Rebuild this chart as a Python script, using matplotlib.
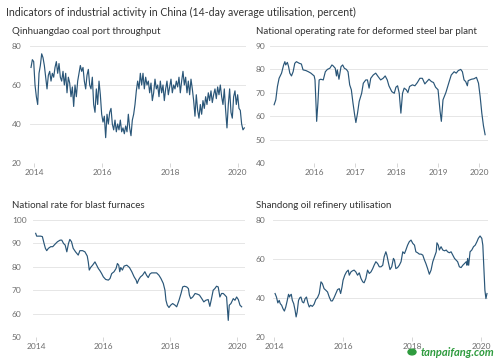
import matplotlib

matplotlib.use("Agg")
import matplotlib.pyplot as plt
from matplotlib.patches import Circle
import numpy as np

plt.rcParams["font.family"] = ["Lato", "DejaVu Sans"]

TITLE = "Indicators of industrial activity in China (14-day average utilisation, percent)"

# ---- Qinhuangdao coal port throughput (roughly fortnightly, late 2013 -> early 2020)
coal_start, coal_end = 2013.91, 2020.19
coal_vals = [
    69, 73, 72, 60, 54, 50, 66, 70, 76, 74, 70, 64, 58, 65, 67, 62, 66, 64, 69, 72,
    66, 71, 64, 62, 67, 60, 66, 56, 64, 61, 54, 59, 49, 60, 54, 62, 66, 70, 67, 69,
    62, 58, 65, 68, 60, 58, 64, 50, 46, 58, 50, 62, 55, 45, 41, 44, 33, 45, 40, 46,
    48, 40, 37, 42, 36, 40, 37, 42, 36, 38, 35, 39, 36, 45, 38, 34, 42, 45, 50, 57,
    62, 58, 66, 60, 66, 58, 64, 60, 62, 56, 61, 52, 56, 63, 58, 60, 54, 62, 56, 60,
    52, 58, 62, 55, 59, 63, 56, 60, 58, 62, 59, 64, 56, 62, 67, 60, 64, 56, 62, 55,
    63, 58, 52, 44, 55, 47, 43, 50, 45, 52, 48, 54, 50, 56, 52, 57, 51, 55, 58, 53,
    59, 55, 60, 54, 50, 58, 47, 38, 50, 58, 46, 43, 54, 57, 50, 55, 48, 47, 40, 37, 38,
]

# ---- National operating rate for deformed steel bar plant
steel_years = [
    2015.03, 2015.07, 2015.11, 2015.15, 2015.21, 2015.26, 2015.29, 2015.31, 2015.35, 2015.38,
    2015.41, 2015.45, 2015.49, 2015.53, 2015.57, 2015.64, 2015.69, 2015.73, 2015.80, 2015.86,
    2015.92, 2015.96, 2016.00, 2016.02, 2016.05, 2016.06, 2016.09, 2016.12, 2016.16, 2016.22,
    2016.27, 2016.32, 2016.38, 2016.43, 2016.46, 2016.51, 2016.54, 2016.56, 2016.60, 2016.65,
    2016.69, 2016.73, 2016.78, 2016.82, 2016.86, 2016.90, 2016.94, 2016.98, 2017.01, 2017.05,
    2017.09, 2017.15, 2017.19, 2017.25, 2017.29, 2017.33, 2017.37, 2017.43, 2017.49, 2017.55,
    2017.61, 2017.67, 2017.72, 2017.77, 2017.81, 2017.88, 2017.94, 2017.98, 2018.02, 2018.06,
    2018.10, 2018.14, 2018.18, 2018.23, 2018.27, 2018.31, 2018.38, 2018.44, 2018.50, 2018.56,
    2018.62, 2018.68, 2018.73, 2018.78, 2018.84, 2018.89, 2018.94, 2019.00, 2019.05, 2019.08,
    2019.12, 2019.19, 2019.27, 2019.32, 2019.39, 2019.44, 2019.49, 2019.55, 2019.59, 2019.63,
    2019.67, 2019.71, 2019.73, 2019.77, 2019.81, 2019.87, 2019.93, 2019.98, 2020.02, 2020.06,
    2020.10, 2020.14,
]
steel_vals = [
    64.9, 67.0, 72.7, 76.2, 78.4, 81.9, 83.3, 81.9, 83.0, 81.2,
    78.4, 77.2, 79.0, 82.6, 83.3, 82.6, 82.3, 79.8, 79.5, 79.0,
    78.4, 77.8, 77.2, 75.5, 62.7, 57.8, 65.6, 75.5, 75.8, 75.5,
    79.0, 80.0, 80.5, 81.9, 81.5, 80.5, 77.2, 79.8, 75.8, 81.2,
    81.9, 80.5, 80.0, 79.0, 73.4, 71.3, 65.6, 60.6, 57.3, 61.3,
    66.3, 69.8, 74.1, 75.5, 75.5, 72.0, 76.2, 77.6, 78.4, 76.9,
    75.5, 76.2, 77.2, 75.5, 73.0, 70.5, 69.8, 72.4, 73.0, 69.8,
    61.3, 69.8, 72.0, 71.3, 70.1, 72.7, 73.4, 73.0, 74.4, 76.2,
    76.2, 73.8, 74.8, 75.8, 74.8, 74.4, 72.4, 71.3, 62.0, 57.8,
    67.0, 70.1, 74.8, 77.6, 79.0, 78.4, 79.5, 80.0, 79.0, 75.5,
    74.8, 73.0, 75.2, 75.5, 75.8, 76.0, 76.6, 74.1, 68.4, 61.3,
    55.9, 52.1,
]

# ---- National rate for blast furnaces
blast_years = [
    2013.99, 2014.02, 2014.07, 2014.14, 2014.19, 2014.24, 2014.28, 2014.32, 2014.37, 2014.44,
    2014.50, 2014.57, 2014.64, 2014.72, 2014.77, 2014.82, 2014.87, 2014.92, 2014.97, 2015.01,
    2015.06, 2015.11, 2015.18, 2015.26, 2015.31, 2015.39, 2015.46, 2015.53, 2015.56, 2015.59,
    2015.63, 2015.69, 2015.76, 2015.81, 2015.86, 2015.91, 2015.96, 2016.01, 2016.08, 2016.16,
    2016.21, 2016.26, 2016.33, 2016.39, 2016.43, 2016.47, 2016.50, 2016.53, 2016.58, 2016.63,
    2016.71, 2016.79, 2016.86, 2016.93, 2016.99, 2017.02, 2017.07, 2017.12, 2017.18, 2017.25,
    2017.30, 2017.35, 2017.40, 2017.45, 2017.52, 2017.60, 2017.67, 2017.73, 2017.80, 2017.85,
    2017.88, 2017.92, 2017.97, 2018.02, 2018.08, 2018.15, 2018.20, 2018.27, 2018.33, 2018.38,
    2018.43, 2018.50, 2018.55, 2018.58, 2018.62, 2018.68, 2018.75, 2018.82, 2018.88, 2018.95,
    2019.01, 2019.07, 2019.14, 2019.19, 2019.24, 2019.29, 2019.34, 2019.39, 2019.44, 2019.49,
    2019.54, 2019.59, 2019.64, 2019.69, 2019.74, 2019.77, 2019.82, 2019.89, 2019.94, 2019.99,
    2020.04, 2020.09, 2020.14,
]
blast_vals = [
    94.3, 93.1, 93.1, 93.1, 92.9, 90.0, 87.9, 86.9, 87.9, 88.6,
    88.6, 89.7, 90.7, 91.4, 91.4, 90.0, 89.3, 86.4, 90.0, 91.7,
    90.7, 87.9, 86.4, 85.0, 86.9, 86.9, 86.4, 84.6, 82.1, 78.6,
    79.7, 80.7, 82.1, 80.7, 79.3, 78.3, 77.1, 75.7, 74.6, 74.3,
    75.0, 77.1, 77.9, 79.3, 81.4, 80.7, 77.9, 79.7, 78.6, 80.3,
    80.7, 79.7, 77.9, 75.7, 74.3, 72.9, 74.6, 75.7, 76.4, 77.9,
    76.4, 75.4, 76.9, 77.4, 77.4, 77.4, 76.4, 75.0, 72.9, 70.0,
    65.7, 63.6, 62.6, 63.6, 64.3, 63.6, 62.9, 65.7, 68.6, 71.4,
    71.7, 71.4, 70.7, 67.9, 66.4, 67.1, 68.6, 68.3, 67.9, 66.4,
    65.0, 65.7, 66.0, 63.1, 66.4, 70.0, 70.7, 71.7, 71.4, 67.1,
    68.6, 68.6, 67.9, 67.1, 57.1, 63.6, 64.3, 66.4, 65.7, 67.1,
    66.0, 63.6, 62.9,
]

# ---- Shandong oil refinery utilisation
oil_years = [
    2014.03, 2014.07, 2014.11, 2014.15, 2014.18, 2014.22, 2014.26, 2014.30, 2014.34, 2014.38,
    2014.42, 2014.45, 2014.47, 2014.50, 2014.53, 2014.57, 2014.61, 2014.64, 2014.67, 2014.71,
    2014.75, 2014.78, 2014.82, 2014.86, 2014.90, 2014.94, 2014.98, 2015.02, 2015.06, 2015.11,
    2015.16, 2015.21, 2015.26, 2015.31, 2015.34, 2015.36, 2015.40, 2015.45, 2015.50, 2015.55,
    2015.60, 2015.65, 2015.69, 2015.74, 2015.79, 2015.84, 2015.89, 2015.93, 2015.97, 2016.00,
    2016.05, 2016.10, 2016.15, 2016.18, 2016.23, 2016.27, 2016.32, 2016.37, 2016.42, 2016.47,
    2016.52, 2016.57, 2016.61, 2016.66, 2016.71, 2016.76, 2016.81, 2016.86, 2016.90, 2016.95,
    2017.00, 2017.05, 2017.10, 2017.15, 2017.19, 2017.24, 2017.27, 2017.32, 2017.36, 2017.41,
    2017.46, 2017.49, 2017.53, 2017.58, 2017.63, 2017.68, 2017.73, 2017.78, 2017.82, 2017.87,
    2017.92, 2017.97, 2018.02, 2018.07, 2018.11, 2018.16, 2018.21, 2018.26, 2018.31, 2018.36,
    2018.40, 2018.45, 2018.50, 2018.55, 2018.60, 2018.65, 2018.70, 2018.72, 2018.76, 2018.79,
    2018.84, 2018.89, 2018.94, 2018.99, 2019.03, 2019.08, 2019.13, 2019.18, 2019.23, 2019.28,
    2019.32, 2019.37, 2019.42, 2019.47, 2019.52, 2019.57, 2019.59, 2019.61, 2019.64, 2019.68,
    2019.73, 2019.78, 2019.83, 2019.88, 2019.92, 2019.97, 2020.02, 2020.05, 2020.08, 2020.11,
    2020.14, 2020.17,
]
oil_vals = [
    42.3, 40.5, 37.5, 38.8, 37.1, 36.3, 34.5, 33.3, 35.4, 38.5,
    41.9, 40.5, 41.4, 41.9, 38.8, 37.1, 33.7, 30.3, 32.8, 38.8,
    40.2, 40.5, 38.0, 37.5, 39.7, 40.5, 37.5, 35.4, 36.3, 35.7,
    36.8, 39.2, 40.2, 42.3, 45.7, 48.3, 47.4, 44.8, 44.0, 43.1,
    40.5, 38.5, 38.5, 40.2, 42.3, 44.3, 44.8, 42.3, 45.7, 49.1,
    51.7, 53.4, 54.3, 51.7, 53.4, 53.9, 54.3, 53.4, 51.7, 52.9,
    50.0, 48.3, 47.8, 50.0, 54.3, 52.6, 53.4, 55.1, 56.8, 58.6,
    57.7, 56.0, 56.0, 56.8, 61.1, 63.7, 62.0, 57.7, 54.6, 56.0,
    60.3, 59.4, 55.1, 55.6, 56.8, 58.6, 63.7, 62.8, 64.6, 67.1,
    68.9, 69.7, 68.0, 67.1, 63.7, 63.2, 62.5, 62.5, 62.0, 59.4,
    57.7, 55.1, 52.2, 54.3, 58.6, 61.1, 63.7, 68.3, 67.1, 64.6,
    66.3, 64.6, 64.2, 64.6, 63.7, 63.2, 63.7, 62.0, 60.3, 59.4,
    58.6, 56.0, 55.6, 56.8, 57.7, 58.6, 56.8, 60.3, 56.8, 63.7,
    64.6, 66.3, 67.1, 68.9, 70.6, 71.8, 70.6, 67.1, 56.0, 44.0,
    39.7, 42.3,
]

LINE = "#2a5678"
GRID = "#e6e6e6"
TXT = "#333333"
TICK = "#6e6e6e"
W, H = 499, 360

fig = plt.figure(figsize=(W / 100, H / 100), dpi=100)


def add_panel(left, top, right, bottom, label_x, subtitle, years, vals,
              ylim, yticks, xlim, xticks):
    ax = fig.add_axes([left / W, 1 - bottom / H, (right - left) / W, (bottom - top) / H])
    ax.plot(years, vals, color=LINE, lw=0.85, solid_joinstyle="round")
    ax.set_xlim(*xlim)
    ax.set_ylim(*ylim)
    ax.set_yticks(yticks)
    ax.set_xticks(xticks)
    ax.set_xticklabels([str(t) for t in xticks])
    for s in ax.spines.values():
        s.set_visible(False)
    ax.grid(axis="y", color=GRID, lw=0.7)
    ax.axhline(ylim[0], color="#d0d0d0", lw=0.7, zorder=1)
    ax.tick_params(axis="y", length=0, labelsize=6, labelcolor=TICK,
                   pad=(left - label_x) * 0.72)
    ax.tick_params(axis="x", length=3, width=0.6, color="#d0d0d0",
                   labelsize=6, labelcolor=TICK, pad=1.5)
    for lab in ax.get_yticklabels():
        lab.set_ha("left")
    fig.text(label_x / W, 1 - (top - 14) / H, subtitle, fontsize=7, color=TXT,
             ha="left", va="center")
    return ax


fig.text(6 / W, 1 - 12 / H, TITLE, fontsize=7.6, color=TXT, ha="left", va="center")

coal_years = np.linspace(coal_start, coal_end, len(coal_vals))
add_panel(30, 46, 246, 163, 12, "Qinhuangdao coal port throughput", coal_years, coal_vals,
          (20, 80), [20, 40, 60, 80], (2013.88, 2020.24), [2014, 2016, 2018, 2020])
add_panel(270, 46, 488, 163, 256, "National operating rate for deformed steel bar plant",
          steel_years, steel_vals, (40, 90), [40, 50, 60, 70, 80, 90], (2014.93, 2020.21),
          [2016, 2017, 2018, 2019, 2020])
add_panel(33, 220, 245, 337, 12, "National rate for blast furnaces", blast_years, blast_vals,
          (50, 100), [50, 60, 70, 80, 90, 100], (2013.91, 2020.24), [2014, 2016, 2018, 2020])
add_panel(273, 220, 488, 337, 256, "Shandong oil refinery utilisation", oil_years, oil_vals,
          (20, 80), [20, 40, 60, 80], (2013.97, 2020.2), [2014, 2016, 2018, 2020])

# watermark
fig.patches.append(Circle((412 / W, 1 - 352 / H), 4 / W, transform=fig.transFigure,
                          color="#2e9b3e"))
fig.text(421 / W, 1 - 352 / H, "tanpaifang.com", fontsize=8, color="#2e9b3e",
         fontweight="bold", style="italic", ha="left", va="center")

fig.savefig("out.png", dpi=100)
